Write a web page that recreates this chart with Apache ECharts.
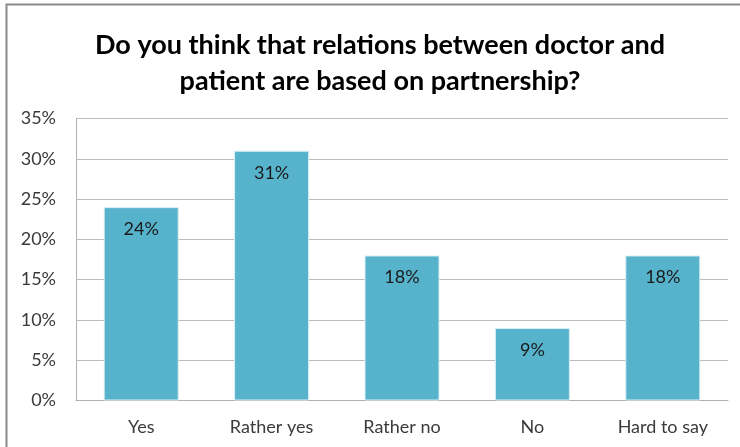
<!DOCTYPE html>
<html>
<head>
<meta charset="utf-8">
<script src="https://cdn.jsdelivr.net/npm/echarts@6/dist/echarts.min.js"></script>
<style>
  html, body { margin: 0; padding: 0; background: #fff; }
  #chart { width: 740px; height: 447px; }
</style>
</head>
<body>
<div id="chart"></div>
<script>
// Survey answers and their shares (%)
const categories = ['Yes', 'Rather yes', 'Rather no', 'No', 'Hard to say'];
const shares = [24, 31, 18, 9, 18];
const titleLines = ['Do you think that relations between doctor and', 'patient are based on partnership?'];

const chart = echarts.init(document.getElementById('chart'));
const fontFamily = 'Lato, "Open Sans", sans-serif';

// Two-line heading, centred over the chart area
const titleGraphics = titleLines.map((line, i) => ({
  type: 'text',
  x: 380,
  y: 45 + i * 36,
  silent: true,
  style: {
    text: line,
    fontFamily: fontFamily,
    fontWeight: 'bold',
    fontSize: 27,
    fill: '#000000',
    align: 'center',
    verticalAlign: 'middle'
  }
}));

chart.setOption({
  animation: false,
  backgroundColor: '#ffffff',
  graphic: [{
    type: 'rect',
    shape: { x: 6.5, y: 4.5, width: 760, height: 460 },
    style: { fill: 'none', stroke: '#8a8a8a', lineWidth: 2 },
    silent: true,
    z: -1
  }].concat(titleGraphics),
  grid: { left: 76, right: 12, top: 118.5, bottom: 46.5 },
  xAxis: {
    type: 'category',
    data: categories,
    axisTick: { show: false },
    axisLine: { show: true, lineStyle: { color: '#b0b0b0', width: 1 } },
    axisLabel: {
      fontFamily: fontFamily,
      fontSize: 18,
      color: '#3a3a3a',
      margin: 18
    }
  },
  yAxis: {
    type: 'value',
    min: 0,
    max: 35,
    interval: 5,
    axisLine: { show: true, lineStyle: { color: '#b0b0b0', width: 1 } },
    axisTick: { show: false },
    splitLine: { lineStyle: { color: '#bcbcbc', width: 1 } },
    axisLabel: {
      fontFamily: fontFamily,
      fontSize: 18,
      color: '#3a3a3a',
      margin: 20,
      formatter: '{value}%'
    }
  },
  series: [{
    type: 'bar',
    data: shares,
    barWidth: 75,
    itemStyle: { color: '#57b3cc', borderColor: '#d8eef4', borderWidth: 1 },
    label: {
      show: true,
      position: 'insideTop',
      distance: 13,
      fontFamily: fontFamily,
      fontSize: 18,
      color: '#1a1a1a',
      formatter: '{c}%'
    }
  }]
});
</script>
</body>
</html>
